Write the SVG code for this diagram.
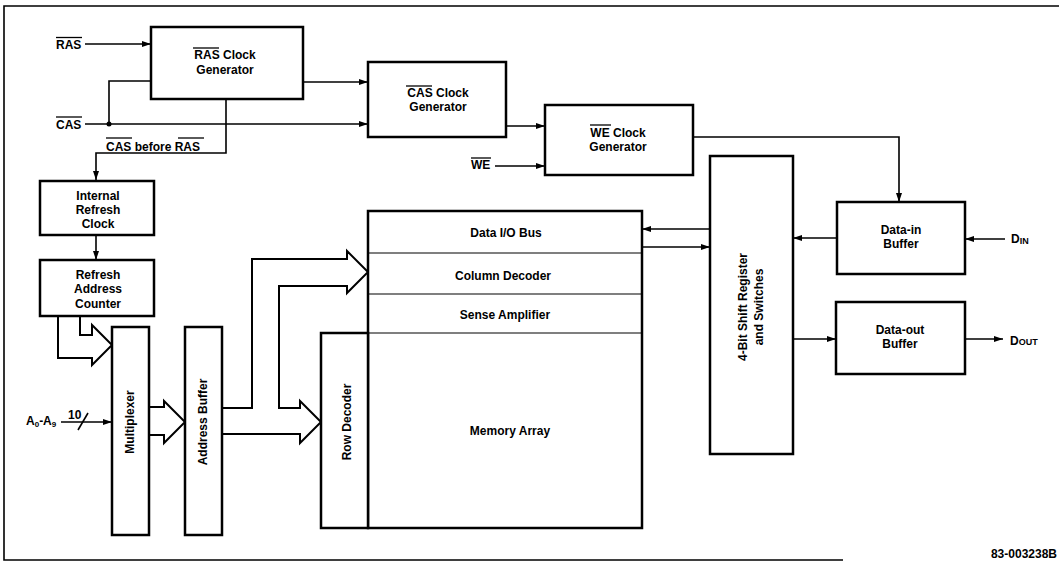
<svg xmlns="http://www.w3.org/2000/svg" width="1059" height="563" viewBox="0 0 1059 563">
<style>
.box{fill:#fff;stroke:#000;stroke-width:2.5}
.thin{fill:none;stroke:#000;stroke-width:1.2}
.ln{fill:none;stroke:#000;stroke-width:1.6}
.fat{fill:#fff;stroke:#000;stroke-width:2}
.arr{fill:none;stroke:#000;stroke-width:1.6;marker-end:url(#ah)}
.ov{stroke:#000;stroke-width:1.3}
text{font-family:"Liberation Sans",Arial,sans-serif;font-weight:bold;font-size:12px;fill:#000}
.c{text-anchor:middle}
.r{text-anchor:middle;dominant-baseline:central}
</style>
<defs>
<marker id="ah" viewBox="0 0 9 6" markerWidth="9" markerHeight="6" refX="9" refY="3" orient="auto" markerUnits="userSpaceOnUse">
<path d="M0,0 L9,3 L0,6 z" fill="#000"/>
</marker>
</defs>
<rect width="1059" height="563" fill="#fff"/>
<g id="frame">
<path class="ln" d="M1059,6 H4 V560 H843" stroke-width="2"/>
</g>
<g id="connectors">
<path class="arr" d="M85,44 H151"/>
<path class="arr" d="M85,124 H368"/>
<path class="ln" d="M109,124 V81 H151"/>
<circle cx="109" cy="124" r="2.5" fill="#000"/>
<path class="arr" d="M303,82 H368"/>
<path class="arr" d="M226,99 V153 H96 V180"/>
<path class="arr" d="M506,126 H545"/>
<path class="arr" d="M495,166 H545"/>
<path class="arr" d="M693,137 H899 V202"/>
<path class="arr" d="M1005,239 H965"/>
<path class="arr" d="M837,238 H793"/>
<path class="arr" d="M710,229 H642"/>
<path class="arr" d="M642,247 H710"/>
<path class="arr" d="M793,339 H836"/>
<path class="arr" d="M965,339 H1003"/>
<path class="arr" d="M96,235 V260"/>
<path class="arr" d="M61,422 H112"/>
<path class="ln" d="M78,430 L88,413"/>
<path class="fat" d="M80,316 V335 H92 V325 L112,345 L92,365 V358 H58 V316"/>
<path class="fat" d="M149,407 H164 V401 L185,422 L164,443 V435 H149"/>
<path class="fat" d="M222,408 H252 V259 H347 V251 L368,272 L347,293 V286 H279 V408 H300 V401 L321,422 L300,443 V434 H222"/>
</g>
<g id="labels">
<text x="56" y="48.5">RAS</text>
<line class="ov" x1="56" y1="37.5" x2="82" y2="37.5"/>
<text x="56" y="128.5">CAS</text>
<line class="ov" x1="56" y1="117" x2="82" y2="117"/>
<text x="106" y="150.5">CAS before RAS</text>
<line class="ov" x1="106" y1="138" x2="132" y2="138"/>
<line class="ov" x1="178" y1="138" x2="204" y2="138"/>
<text x="471" y="169">WE</text>
<line class="ov" x1="471" y1="158" x2="491" y2="158"/>
<text x="1011" y="243">D<tspan font-size="9" dy="1">IN</tspan></text>
<text x="1010" y="345">D<tspan font-size="9">OUT</tspan></text>
<text x="26" y="425">A<tspan font-size="8" dy="2">0</tspan><tspan dy="-2">-A</tspan><tspan font-size="8" dy="2">9</tspan></text>
<text x="68" y="419" font-size="11">10</text>
<text x="1057" y="558" font-size="9" text-anchor="end">83-003238B</text>
</g>
<g id="ras-clock">
<rect class="box" x="151" y="27" width="152" height="72"/>
<text class="c" x="225" y="59">RAS Clock</text>
<line class="ov" x1="193" y1="48" x2="219" y2="48"/>
<text class="c" x="225" y="74">Generator</text>
</g>
<g id="cas-clock">
<rect class="box" x="368" y="62" width="138" height="75"/>
<text class="c" x="438" y="97">CAS Clock</text>
<line class="ov" x1="406" y1="86" x2="432" y2="86"/>
<text class="c" x="438" y="111">Generator</text>
</g>
<g id="we-clock">
<rect class="box" x="545" y="105" width="148" height="70"/>
<text class="c" x="618" y="137">WE Clock</text>
<line class="ov" x1="590" y1="125" x2="611" y2="125"/>
<text class="c" x="618" y="151">Generator</text>
</g>
<g id="internal-refresh-clock">
<rect class="box" x="40" y="181" width="114" height="54"/>
<text class="c" x="98" y="200">Internal</text>
<text class="c" x="98" y="214">Refresh</text>
<text class="c" x="98" y="228">Clock</text>
</g>
<g id="refresh-address-counter">
<rect class="box" x="40" y="260" width="114" height="56"/>
<text class="c" x="98" y="279">Refresh</text>
<text class="c" x="98" y="293">Address</text>
<text class="c" x="98" y="308">Counter</text>
</g>
<g id="multiplexer">
<rect class="box" x="112" y="327" width="37" height="208"/>
<text class="r" transform="translate(130,422) rotate(-90)">Multiplexer</text>
</g>
<g id="address-buffer">
<rect class="box" x="185" y="327" width="37" height="208"/>
<text class="r" transform="translate(202.5,422) rotate(-90)">Address Buffer</text>
</g>
<g id="memory">
<rect class="box" x="368" y="211" width="274" height="317"/>
<line class="thin" x1="368" y1="253" x2="642" y2="253"/>
<line class="thin" x1="368" y1="294" x2="642" y2="294"/>
<line class="thin" x1="368" y1="333" x2="642" y2="333"/>
<text class="c" x="506" y="237">Data I/O Bus</text>
<text class="c" x="503" y="280">Column Decoder</text>
<text class="c" x="505" y="319">Sense Amplifier</text>
<text class="c" x="510" y="435">Memory Array</text>
</g>
<g id="row-decoder">
<rect class="box" x="321" y="333" width="47" height="195"/>
<text class="r" transform="translate(347,422) rotate(-90)">Row Decoder</text>
</g>
<g id="shift-register">
<rect class="box" x="710" y="156" width="83" height="298"/>
<text class="r" font-size="11.5" transform="translate(742.5,307) rotate(-90)">4-Bit Shift Register</text>
<text class="r" font-size="11.5" transform="translate(759,307) rotate(-90)">and Switches</text>
</g>
<g id="data-in-buffer">
<rect class="box" x="837" y="202" width="128" height="72"/>
<text class="c" x="901" y="234">Data-in</text>
<text class="c" x="901" y="248">Buffer</text>
</g>
<g id="data-out-buffer">
<rect class="box" x="836" y="302" width="129" height="72"/>
<text class="c" x="900" y="334">Data-out</text>
<text class="c" x="900" y="348">Buffer</text>
</g>
</svg>
